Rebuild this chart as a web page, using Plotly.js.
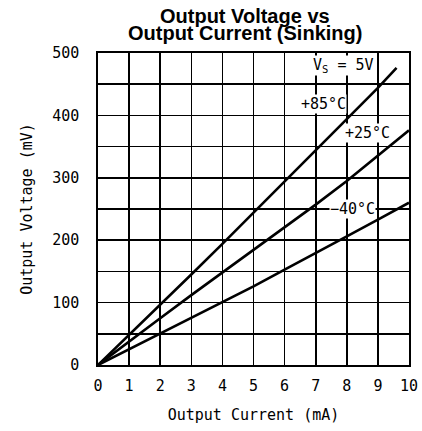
<!DOCTYPE html>
<html>
<head>
<meta charset="utf-8">
<script src="https://cdn.plot.ly/plotly-3.0.1.min.js"></script>
<style>html,body{margin:0;padding:0;background:#fff;}#chart{width:422px;height:431px;}</style>
</head>
<body>
<div id="chart"></div>
<script>
// Output current (mA) and output voltage (mV)
const current85 = [0, 1, 2, 3, 4, 5, 6, 7, 8, 9, 9.6];
const voltage85 = [0, 48, 96, 145, 194, 244, 294, 344, 394, 444, 476];
const current25 = [0, 1, 2, 3, 4, 5, 6, 7, 8, 9, 10];
const voltage25 = [0, 38, 75, 112, 148, 184, 221, 257, 295, 335, 376];
const currentM40 = [0, 1, 2, 3, 4, 5, 6, 7, 8, 9, 10];
const voltageM40 = [0, 25, 50, 75, 100, 126, 153, 179, 206, 233, 260];

const xTicks = [0, 1, 2, 3, 4, 5, 6, 7, 8, 9, 10];
const yTicks = [0, 100, 200, 300, 400, 500];

const seriesLabels = ['+85°C', '+25°C', '−40°C'];
const supplyLabel = 'V<sub>S</sub> = 5V';
const titleLines = ['Output Voltage vs', 'Output Current (Sinking)'];

const mono = 'DejaVu Sans Mono, monospace';
const lineStyle = {color: '#000', width: 2.6};

const traces = [
  {x: current85, y: voltage85, mode: 'lines', line: lineStyle, name: seriesLabels[0]},
  {x: current25, y: voltage25, mode: 'lines', line: lineStyle, name: seriesLabels[1]},
  {x: currentM40, y: voltageM40, mode: 'lines', line: lineStyle, name: seriesLabels[2]}
];

const annFont = {family: mono, size: 15, color: '#000'};
const titleFont = {family: 'Liberation Sans, Arial, sans-serif', size: 20, color: '#000'};
const gridW = 1.6;
const layout = {
  width: 422, height: 431,
  margin: {l: 98, r: 13, t: 53, b: 66},
  paper_bgcolor: '#fff', plot_bgcolor: '#fff',
  showlegend: false,
  xaxis: {
    range: [0, 10], tickvals: xTicks, ticktext: xTicks.map(String),
    showgrid: true, gridcolor: '#000', gridwidth: gridW,
    showline: true, linecolor: '#000', linewidth: 1.6, mirror: true,
    zeroline: false, ticks: '', ticklabelstandoff: 6,
    tickfont: {family: mono, size: 15, color: '#000'},
    title: {text: 'Output Current (mA)', font: {family: mono, size: 15, color: '#000'}, standoff: 16}
  },
  yaxis: {
    range: [0, 500], tickvals: yTicks, ticktext: yTicks.map(String),
    showgrid: true, gridcolor: '#000', gridwidth: gridW,
    minor: {dtick: 50, showgrid: true, gridcolor: '#000', gridwidth: gridW, ticks: ''},
    showline: true, linecolor: '#000', linewidth: 1.6, mirror: true,
    zeroline: false, ticks: '', ticklabelstandoff: 14,
    tickfont: {family: mono, size: 15, color: '#000'},
    title: {text: 'Output Voltage (mV)', font: {family: mono, size: 15, color: '#000'}, standoff: 16}
  },
  annotations: [
    {xref: 'paper', yref: 'paper', x: 0.473, y: 1.119, xanchor: 'center', yanchor: 'middle', text: '<b>' + titleLines[0] + '</b>', showarrow: false, font: titleFont},
    {xref: 'paper', yref: 'paper', x: 0.473, y: 1.064, xanchor: 'center', yanchor: 'middle', text: '<b>' + titleLines[1] + '</b>', showarrow: false, font: titleFont},
    {x: 7.9, y: 480, text: supplyLabel, showarrow: false, font: annFont, bgcolor: '#fff', borderpad: 0},
    {x: 7.25, y: 419, text: seriesLabels[0], showarrow: false, font: annFont, bgcolor: '#fff', borderpad: 0},
    {x: 8.68, y: 372, text: seriesLabels[1], showarrow: false, font: annFont, bgcolor: '#fff', borderpad: 0},
    {x: 8.18, y: 250, text: seriesLabels[2], showarrow: false, font: annFont, bgcolor: '#fff', borderpad: 0}
  ]
};

Plotly.newPlot('chart', traces, layout, {displayModeBar: false, staticPlot: true});
</script>
</body>
</html>
